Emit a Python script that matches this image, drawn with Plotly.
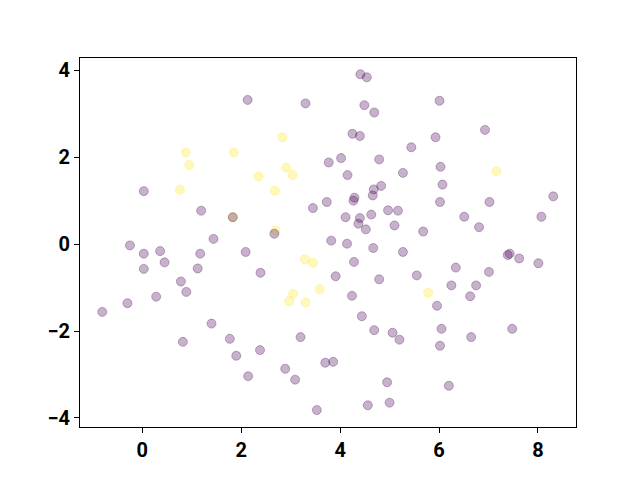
import plotly.graph_objects as go

# Class 0 (purple) points
x_purple = [2.13, 3.30, 3.77, 0.03, 1.19, 3.45, 3.73, 1.83, 1.44, 2.67, -0.25,
            4.41, 4.54, 6.01, 4.49, 4.69, 6.93, 4.25, 4.40, 5.93, 5.44, 4.02, 4.79,
            4.15, 5.27, 6.03, 6.07, 4.83, 4.68, 4.66, 4.29, 4.27, 6.02, 7.02, 8.31,
            4.11, 4.40, 4.37, 4.63, 4.97, 5.17, 5.10, 4.52, 5.68, 6.51, 6.81, 8.07,
            3.82, 4.14,
            4.67, 5.27, 4.28, 3.91, 4.79, 5.55, 7.39, 7.43, 7.62, 8.01, 6.34, 7.01,
            6.25, 6.75, 6.63, 4.24, 5.96, 4.44, 4.69, 5.06, 5.20, 6.05, 6.02, 6.65,
            7.48, 3.86, 4.95, 6.20, 4.56, 5.00,
            0.03, 0.36, 1.17, 2.09, 0.45, 0.03, 1.12, 2.39, 0.78, 0.89, 0.28, -0.30,
            -0.81, 1.40, 0.82, 1.77, 1.90, 2.38, 2.14, 2.89, 3.09, 3.20, 3.53, 3.70]
y_purple = [3.32, 3.24, 1.88, 1.22, 0.77, 0.83, 0.97, 0.62, 0.12, 0.24, -0.03,
            3.91, 3.84, 3.30, 3.20, 3.03, 2.63, 2.54, 2.49, 2.46, 2.23, 1.98, 1.95,
            1.59, 1.64, 1.78, 1.37, 1.34, 1.26, 1.12, 1.07, 1.00, 0.97, 0.97, 1.10,
            0.62, 0.60, 0.47, 0.68, 0.78, 0.77, 0.43, 0.34, 0.29, 0.63, 0.39, 0.63,
            0.08, 0.01,
            -0.09, -0.18, -0.41, -0.74, -0.81, -0.72, -0.25, -0.22, -0.33, -0.44, -0.54, -0.64,
            -0.95, -0.95, -1.20, -1.19, -1.42, -1.66, -1.98, -2.04, -2.20, -1.95, -2.34, -2.14,
            -1.95, -2.71, -3.18, -3.26, -3.71, -3.65,
            -0.22, -0.16, -0.22, -0.18, -0.42, -0.57, -0.56, -0.66, -0.86, -1.10, -1.21, -1.36,
            -1.56, -1.83, -2.25, -2.18, -2.57, -2.44, -3.04, -2.87, -3.12, -2.14, -3.82, -2.73]

# Class 1 (yellow) points
x_yellow = [2.83, 0.88, 1.85, 0.95, 2.91, 3.04, 2.35, 0.76, 2.68, 1.83, 2.69,
            7.16, 5.78, 3.29, 3.45, 3.59, 3.05, 2.97, 3.30]
y_yellow = [2.46, 2.11, 2.11, 1.82, 1.76, 1.59, 1.56, 1.25, 1.23, 0.62, 0.31,
            1.68, -1.12, -0.35, -0.43, -1.04, -1.14, -1.31, -1.34]

x_ticks = [0, 2, 4, 6, 8]
y_ticks = [-4, -2, 0, 2, 4]

fig = go.Figure()
fig.add_trace(go.Scatter(
    x=x_yellow, y=y_yellow, mode="markers",
    marker=dict(size=9, color="rgba(253,231,37,0.3)",
                line=dict(width=1, color="rgba(253,231,37,0.3)")),
    showlegend=False, hoverinfo="skip"))
fig.add_trace(go.Scatter(
    x=x_purple, y=y_purple, mode="markers",
    marker=dict(size=9, color="rgba(68,1,84,0.3)",
                line=dict(width=1, color="rgba(68,1,84,0.3)")),
    showlegend=False, hoverinfo="skip"))

axis_common = dict(
    showline=True, linecolor="black", linewidth=1, mirror=True,
    ticks="outside", ticklen=5, tickwidth=1, tickcolor="black",
    showgrid=False, zeroline=False, automargin=False,
    tickfont=dict(family="Roboto", size=20, color="black", weight="bold"),
)

fig.update_layout(
    width=640, height=480,
    margin=dict(l=72, r=72, t=50, b=61),
    paper_bgcolor="white", plot_bgcolor="white",
    xaxis=dict(range=[-1.26, 8.77], tickvals=x_ticks, **axis_common),
    yaxis=dict(range=[-4.21, 4.285], tickvals=y_ticks, **axis_common),
)

fig.write_html("out.html")
